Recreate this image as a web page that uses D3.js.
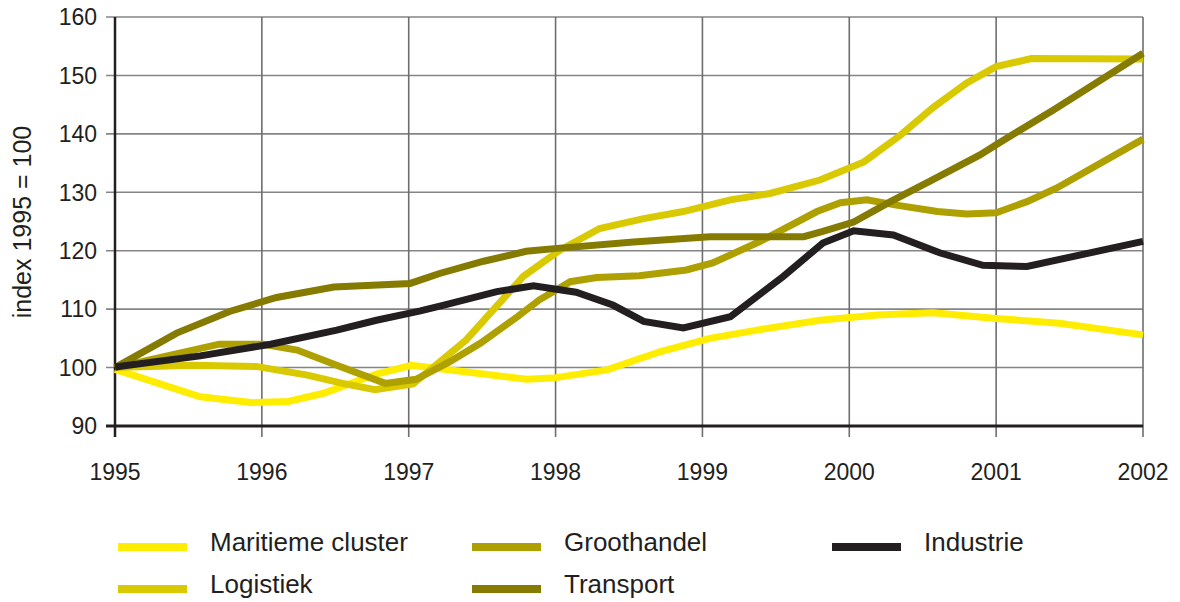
<!DOCTYPE html>
<html><head><meta charset="utf-8">
<script src="https://cdn.jsdelivr.net/npm/d3@7"></script>
<style>body{margin:0;background:#fff}svg{display:block}text{font-family:"Liberation Sans",Arial,sans-serif;fill:#231F20}</style>
</head><body><svg id="c" width="1180" height="602"></svg>
<script>
const seriesNames = ["Maritieme cluster","Groothandel","Industrie","Logistiek","Transport"];
const seriesColors = ["#FFED00","#ADA000","#231F20","#D8C900","#857B00"];
const xTicks = [1995,1996,1997,1998,1999,2000,2001,2002];
const yTicks = [90,100,110,120,130,140,150,160];

const maritieme = [[1995,99.7],[1995.58,95.0],[1995.94,94.0],[1996.18,94.2],[1996.42,95.6],[1996.78,98.9],[1997.02,100.4],[1997.80,98.0],[1997.98,98.2],[1998.35,99.6],[1998.71,102.7],[1999.05,105.0],[1999.39,106.5],[1999.80,108.1],[2000.19,109.0],[2000.57,109.4],[2001.0,108.4],[2001.43,107.6],[2002,105.6]];
const logistiek = [[1995,100],[1995.53,100.4],[1995.96,100.2],[1996.31,98.7],[1996.55,97.3],[1996.77,96.2],[1997.03,97.2],[1997.39,104.7],[1997.78,115.6],[1998.03,120.1],[1998.30,123.8],[1998.60,125.5],[1998.87,126.7],[1999.19,128.7],[1999.46,129.8],[1999.80,132.1],[2000.10,135.2],[2000.35,139.8],[2000.57,144.5],[2000.80,148.7],[2001.0,151.5],[2001.24,152.9],[2002,152.8]];
const groothandel = [[1995,100],[1995.71,104.0],[1996.01,104.0],[1996.24,103.0],[1996.51,100.4],[1996.84,97.3],[1997.05,98.0],[1997.28,101.0],[1997.49,104.2],[1997.74,108.7],[1997.89,111.6],[1998.10,114.7],[1998.28,115.4],[1998.57,115.7],[1998.89,116.7],[1999.07,117.9],[1999.41,121.8],[1999.78,126.7],[1999.94,128.2],[2000.12,128.7],[2000.32,127.8],[2000.60,126.7],[2000.80,126.3],[2001.0,126.5],[2001.21,128.4],[2001.41,130.7],[2002,139.1]];
const transport = [[1995,100],[1995.42,105.9],[1995.78,109.6],[1996.10,112.0],[1996.49,113.8],[1997.01,114.4],[1997.21,116.1],[1997.51,118.2],[1997.80,119.9],[1998.01,120.4],[1998.53,121.5],[1999.05,122.4],[1999.69,122.4],[1999.82,123.3],[2000.03,124.9],[2000.28,128.4],[2000.55,131.9],[2000.89,136.4],[2001.03,138.6],[2001.39,144.1],[2002,153.8]];
const industrie = [[1995,100.1],[1995.58,102.0],[1996.06,104.0],[1996.51,106.4],[1996.78,108.1],[1997.08,109.7],[1997.24,110.7],[1997.60,113.0],[1997.85,114.0],[1998.14,112.9],[1998.39,110.7],[1998.60,107.9],[1998.87,106.8],[1999.19,108.7],[1999.55,115.6],[1999.82,121.3],[2000.03,123.4],[2000.30,122.7],[2000.62,119.6],[2000.91,117.5],[2001.21,117.3],[2002,121.6]];

const svg = d3.select("#c");
const x = d3.scaleLinear().domain([1995,2002]).range([115,1143]);
const y = d3.scaleLinear().domain([90,160]).range([426,17]);

// grid
const g = svg.append("g");
g.selectAll(".hg").data(yTicks.filter(v=>v>90)).join("line")
  .attr("x1",106).attr("x2",x(2002)).attr("y1",d=>y(d)).attr("y2",d=>y(d))
  .attr("stroke","#858585").attr("stroke-width",1.6);
g.selectAll(".vg").data(xTicks.slice(1)).join("line")
  .attr("x1",d=>x(d)).attr("x2",d=>x(d)).attr("y1",y(160)).attr("y2",437)
  .attr("stroke","#6e6e6e").attr("stroke-width",1.6);

// axes lines
svg.append("line").attr("x1",x(1995)).attr("x2",x(1995)).attr("y1",y(160)).attr("y2",437).attr("stroke","#231F20").attr("stroke-width",2.5);
svg.append("line").attr("x1",106).attr("x2",x(2002)).attr("y1",y(90)).attr("y2",y(90)).attr("stroke","#231F20").attr("stroke-width",3);

// tick labels
svg.selectAll(".yl").data(yTicks).join("text")
  .attr("x",97).attr("y",d=>y(d)).attr("dy","0.36em").attr("text-anchor","end")
  .attr("font-size",23).text(d=>d);
svg.selectAll(".xl").data(xTicks).join("text")
  .attr("x",d=>x(d)).attr("y",472).attr("dy","0.36em").attr("text-anchor","middle")
  .attr("font-size",23).text(d=>d);
svg.append("text").attr("transform","translate(22,222) rotate(-90)").attr("text-anchor","middle")
  .attr("dy","0.36em").attr("font-size",25).text("index 1995 = 100");

// lines
const line = d3.line().x(d=>x(d[0])).y(d=>y(d[1]));
const drawOrder = [[maritieme,0],[logistiek,3],[groothandel,1],[transport,4],[industrie,2]];
drawOrder.forEach(([data,i])=>{
  svg.append("path").datum(data).attr("d",line).attr("fill","none")
    .attr("stroke",seriesColors[i]).attr("stroke-width",7).attr("stroke-linejoin","miter");
});

// legend
const legX = [118,472,832], legY = [546,588];
seriesNames.forEach((n,i)=>{
  const col = i<3 ? i : i-3, row = i<3 ? 0 : 1;
  const lx = legX[col], ly = legY[row];
  svg.append("line").attr("x1",lx).attr("x2",lx+69).attr("y1",ly+1).attr("y2",ly+1)
    .attr("stroke",seriesColors[i]).attr("stroke-width",8);
  svg.append("text").attr("x",lx+92).attr("y",ly-4).attr("dy","0.36em")
    .attr("font-size",26).text(n);
});
</script></body></html>
